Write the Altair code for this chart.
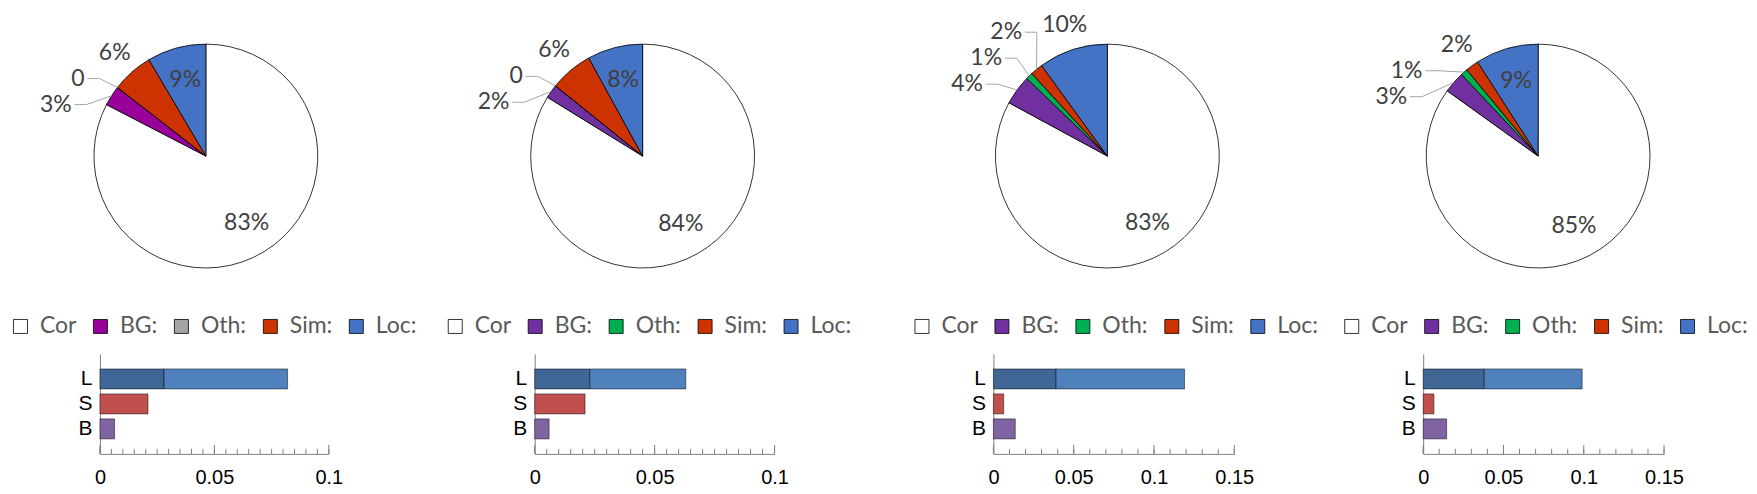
import math
import altair as alt
import pandas as pd

# ---------------- data ----------------
slices = ["Cor", "BG:", "Oth:", "Sim:", "Loc:"]
pie_values = [
    [82.6, 2.9, 0.0, 6.0, 8.5],
    [83.8, 2.0, 0.0, 6.2, 8.0],
    [82.9, 4.3, 1.0, 1.8, 10.0],
    [84.9, 3.1, 1.0, 1.9, 9.1],
]
pie_labels = [
    ["83%", "3%", "0", "6%", "9%"],
    ["84%", "2%", "0", "6%", "8%"],
    ["83%", "4%", "1%", "2%", "10%"],
    ["85%", "3%", "1%", "2%", "9%"],
]
label_inside = [
    [True, False, False, False, True],
    [True, False, False, False, True],
    [True, False, False, False, False],
    [True, False, False, False, True],
]
bg_colors = ["#990099", "#7030A0", "#7030A0", "#7030A0"]
oth_colors = ["#A5A5A5", "#00B050", "#00B050", "#00B050"]
cor_color, sim_color, loc_color = "#FFFFFF", "#CC3300", "#4472C4"

bar_cats = ["L", "S", "B"]
loc_inner = [0.028, 0.023, 0.039, 0.038]
loc_total = [0.082, 0.063, 0.119, 0.099]
sim_err = [0.021, 0.021, 0.0064, 0.0067]
bg_err = [0.0064, 0.006, 0.0136, 0.0146]
x_max = [0.1, 0.1, 0.15, 0.15]
minor_step = [0.005, 0.005, 0.01, 0.01]
major_ticks = [[0, 0.05, 0.1], [0, 0.05, 0.1], [0, 0.05, 0.1, 0.15], [0, 0.05, 0.1, 0.15]]
bar_keys = ["Ld", "Ll", "S", "B"]
bar_colors = ["#3F6695", "#4F81BD", "#C0504D", "#8064A2"]

# ---------------- layout constants (pixels) ----------------
R = 112                       # pie radius
VIEW_H = 445                  # panel view height (pie top area down to bar axis)
PIE_CY = 147                  # pie centre from view top
view_w = [435, 459, 430, 260] # panel strides
pie_cx = [106, 108, 114, 115] # pie centre from view left (= bar zero)
legend_x = [-91, -91, -83, -83]
LEGEND_Y = 306
bar_widths = [229, 240, 241, 241]
BAR_TOP = 345
LABEL_H = 26                  # vertical room taken by one pie label
LABEL_GAP = 8                 # horizontal margin around pie labels
R_FIRST, R_NEXT, R_ANCHOR = R + 26, R + 48, R + 32


def text_width(s):
    return sum(18.0 if ch == "%" else 13.3 for ch in s)


def pie_geometry(vals, labels, inside):
    total = float(sum(vals))
    mids, cum = [], 0.0
    for v in vals:
        a0 = cum / total * 2 * math.pi
        cum += v
        a1 = cum / total * 2 * math.pi
        mids.append((a0 + a1) / 2)
    texts, leads = [], []
    for i, phi in enumerate(mids):
        if inside[i]:
            r = 0.7 * R
            texts.append({"x": r * math.sin(phi), "y": r * math.cos(phi), "t": labels[i]})
    outside = sorted([i for i in range(len(vals)) if not inside[i]], key=lambda i: -mids[i])
    prev = None
    for k, i in enumerate(outside):
        phi = mids[i]
        side = -1 if math.sin(phi) < 0 else 1
        half = text_width(labels[i]) / 2
        if k == 0:
            x, y = R_FIRST * math.sin(phi), R_FIRST * math.cos(phi)
        else:
            x, y = R_NEXT * math.sin(phi), R_NEXT * math.cos(phi)
            px, py, phalf = prev
            h_overlap = abs(x - px) < (half + phalf + 2 * LABEL_GAP)
            v_overlap = abs(y - py) < LABEL_H
            if h_overlap and v_overlap:
                y = py - LABEL_H
                edge = side * math.sqrt(max(R_ANCHOR ** 2 - y * y, 0.0))
                x = edge + side * half
            ex, ey = R * math.sin(phi), R * math.cos(phi)
            hx = x - side * (half + 3)
            for s, (lx, ly) in enumerate([(ex, ey), (hx - side * 12, y), (hx, y)]):
                leads.append({"id": i, "s": s, "x": lx, "y": ly})
        prev = (x, y, half)
        texts.append({"x": x, "y": y, "t": labels[i]})
    return pd.DataFrame(texts), pd.DataFrame(leads, columns=["id", "s", "x", "y"])


panels = []
for p in range(4):
    colors = [cor_color, bg_colors[p], oth_colors[p], sim_color, loc_color]
    pie_df = pd.DataFrame({"slice": slices, "v": pie_values[p], "k": list(range(len(slices)))})
    text_df, lead_df = pie_geometry(pie_values[p], pie_labels[p], label_inside[p])

    # pixel-unit coordinate system centred on the pie (y up)
    xs = alt.Scale(domain=[-pie_cx[p], view_w[p] - pie_cx[p]], nice=False, zero=False)
    ys = alt.Scale(domain=[-(VIEW_H - PIE_CY), PIE_CY], nice=False, zero=False)

    arc = alt.Chart(pie_df).mark_arc(radius=R, stroke="black", strokeWidth=0.8).encode(
        theta=alt.Theta("v:Q", stack=True),
        order=alt.Order("k:Q"),
        x=alt.value(pie_cx[p]),
        y=alt.value(PIE_CY),
        color=alt.Color(
            "slice:N",
            scale=alt.Scale(domain=slices, range=colors),
            legend=alt.Legend(
                orient="none", legendX=legend_x[p], legendY=LEGEND_Y, direction="horizontal",
                title=None, symbolType="square", symbolSize=196,
                symbolStrokeColor="black", symbolStrokeWidth=0.8, symbolOpacity=1,
                labelFont="Lato", labelFontSize=23, labelColor="#595959",
                columnPadding=12, labelOffset=8, gridAlign="none",
            ),
        ),
    )
    leads = alt.Chart(lead_df).mark_line(color="#A6A6A6", strokeWidth=1).encode(
        x=alt.X("x:Q", scale=xs, axis=None),
        y=alt.Y("y:Q", scale=ys, axis=None),
        detail="id:N",
        order="s:Q",
    )
    texts = alt.Chart(text_df).mark_text(
        font="Lato", fontSize=23, color="#404040", baseline="middle", align="center"
    ).encode(
        x=alt.X("x:Q", scale=xs, axis=None),
        y=alt.Y("y:Q", scale=ys, axis=None),
        text="t:N",
    )
    pie_layer = alt.layer(arc, leads, texts)

    bar_df = pd.DataFrame({
        "cat": ["L", "L", "S", "B"],
        "x0": [0, loc_inner[p], 0, 0],
        "x1": [loc_inner[p], loc_total[p], sim_err[p], bg_err[p]],
        "key": bar_keys,
    })
    n_minor = int(round(x_max[p] / minor_step[p]))
    minor_df = pd.DataFrame({"t": [round(j * minor_step[p], 4) for j in range(n_minor + 1)]})
    major_df = pd.DataFrame({"t": major_ticks[p]})
    bxs = alt.Scale(domain=[0, x_max[p]], range=[0, bar_widths[p]], nice=False, zero=True)

    bars = alt.Chart(bar_df).mark_bar(stroke="black", strokeOpacity=0.6, strokeWidth=0.8).encode(
        x=alt.X("x0:Q", scale=bxs, title=None,
                axis=alt.Axis(orient="bottom", values=major_ticks[p], format="~g", ticks=False,
                              grid=False, domainColor="#808080", labelFont="Liberation Sans",
                              labelFontSize=20, labelColor="black", labelPadding=14,
                              labelFlush=False)),
        x2="x1:Q",
        y=alt.Y("cat:N", sort=bar_cats, title=None,
                scale=alt.Scale(range=[BAR_TOP, VIEW_H], paddingInner=0.2, paddingOuter=0.6),
                axis=alt.Axis(orient="left", ticks=False, grid=False, domainColor="#808080",
                              labelFont="Liberation Sans", labelFontSize=21,
                              labelColor="black", labelPadding=8)),
        color=alt.Color("key:N", scale=alt.Scale(domain=bar_keys, range=bar_colors), legend=None),
    )
    minor = alt.Chart(minor_df).mark_rule(color="#808080", strokeWidth=1).encode(
        x=alt.X("t:Q", scale=bxs, title=None), y=alt.value(VIEW_H - 5), y2=alt.value(VIEW_H)
    )
    major = alt.Chart(major_df).mark_rule(color="#808080", strokeWidth=1).encode(
        x=alt.X("t:Q", scale=bxs, title=None), y=alt.value(VIEW_H - 9), y2=alt.value(VIEW_H)
    )
    bar_layer = alt.layer(bars, minor, major)

    panel = alt.layer(pie_layer, bar_layer).resolve_scale(
        x="independent", y="independent", color="independent"
    ).properties(width=view_w[p], height=VIEW_H)
    panels.append(panel)

chart = alt.hconcat(*panels, spacing=0, bounds="flush").resolve_scale(
    color="independent", x="independent", y="independent", theta="independent"
).properties(
    padding={"left": 0, "top": 0, "right": 0, "bottom": 0}
).configure_view(stroke="transparent")

chart.save("out.html", embed_options={"renderer": "svg", "actions": False})
